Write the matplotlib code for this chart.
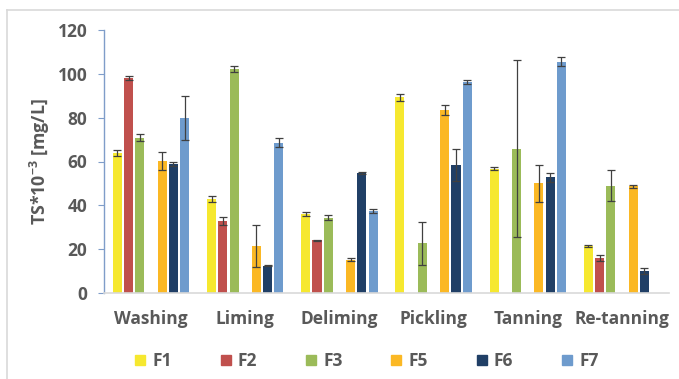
import numpy as np
import matplotlib.pyplot as plt
from matplotlib.lines import Line2D

plt.rcParams['font.family'] = ['Open Sans', 'DejaVu Sans']
plt.rcParams['font.weight'] = 'bold'
plt.rcParams['mathtext.fontset'] = 'custom'
plt.rcParams['mathtext.bf'] = 'Open Sans:bold'
plt.rcParams['mathtext.rm'] = 'Open Sans:bold'

stages = ['Washing', 'Liming', 'Deliming', 'Pickling', 'Tanning', 'Re-tanning']
series = ['F1', 'F2', 'F3', 'F4', 'F5', 'F6', 'F7']

# mean values (TS*10^-3 mg/L); F4 has no measurements
f1 = [64.0, 42.8, 35.9, 89.4, 56.7, 21.5]
f2 = [98.0, 32.9, 24.0, np.nan, np.nan, 15.8]
f3 = [70.9, 102.3, 34.4, 22.7, 65.9, 48.9]
f4 = [np.nan] * 6
f5 = [60.2, 21.5, 15.2, 83.6, 50.1, 48.6]
f6 = [58.9, 12.5, 54.6, 58.4, 52.7, 10.2]
f7 = [79.7, 68.6, 37.4, 96.3, 105.5, np.nan]

# standard deviations
e1 = [1.4, 1.5, 0.9, 1.6, 0.6, 0.6]
e2 = [0.8, 2.0, 0.4, 0, 0, 1.4]
e3 = [1.5, 1.5, 1.0, 9.9, 40.3, 7.0]
e4 = [0] * 6
e5 = [4.3, 9.5, 0.7, 2.2, 8.5, 0.9]
e6 = [0.8, 0.4, 0.4, 7.2, 2.0, 1.4]
e7 = [10.0, 2.0, 0.8, 0.8, 2.0, 0]

values = [f1, f2, f3, f4, f5, f6, f7]
errors = [e1, e2, e3, e4, e5, e6, e7]
colors = ['#F6E82F', '#C0504D', '#9BBB59', '#FFFFFF', '#FBB824', '#203F66', '#6E9BCD']

fig = plt.figure(figsize=(6.79, 3.79), dpi=100)
ax = fig.add_axes([104 / 679, 1 - 293 / 379, 565 / 679, 263 / 379])

x = np.arange(len(stages))
step = 0.119
width = 0.096
for i, (name, vals, errs, c) in enumerate(zip(series, values, errors, colors)):
    if name == 'F4':
        continue
    pos = x + (i - 3) * step
    ax.bar(pos, vals, width=width, color=c, zorder=2)
    ax.errorbar(pos, vals, yerr=errs, fmt='none', ecolor='#404040',
                elinewidth=0.9, capsize=3.2, capthick=0.9, zorder=3)

ax.set_xlim(-0.5, 5.5)
ax.set_ylim(0, 120)
ax.set_yticks(np.arange(0, 121, 20))
ax.set_xticks(x)
ax.set_xticklabels(stages)

txt = '#595959'
ax.tick_params(axis='y', direction='out', length=4, color='#7F9DC9',
               labelsize=12.5, labelcolor=txt, pad=8)
ax.tick_params(axis='x', length=0, labelsize=12.5, labelcolor=txt, pad=12)
for lab in ax.get_xticklabels() + ax.get_yticklabels():
    lab.set_fontweight('bold')

for s in ['top', 'right']:
    ax.spines[s].set_visible(False)
ax.spines['left'].set_color('#7F9DC9')
ax.spines['left'].set_linewidth(1.0)
ax.spines['bottom'].set_color('#D9D9D9')
ax.spines['bottom'].set_linewidth(1.2)

ax.set_ylabel('TS*10$^{-3}$ [mg/L]', fontsize=12.8, color=txt,
              fontweight='bold', labelpad=4)

# legend without the empty F4 series
handles = [Line2D([], [], marker='s', linestyle='none', markersize=7.5,
                  markerfacecolor=c, markeredgecolor=c)
           for n, c in zip(series, colors) if n != 'F4']
labels = [n for n in series if n != 'F4']
leg = fig.legend(handles, labels, loc='center', ncol=6,
                 bbox_to_anchor=(366 / 679, 1 - 361 / 379), frameon=False,
                 handlelength=0.8, handletextpad=0.3, columnspacing=2.7,
                 prop={'size': 12.5, 'weight': 'bold'})
for t in leg.get_texts():
    t.set_color(txt)

# outer chart frame
fig.add_artist(Line2D([7 / 679, 7 / 679], [0, 1 - 10 / 379], transform=fig.transFigure,
                      color='#D9D9D9', lw=1.2))
fig.add_artist(Line2D([7 / 679, 1], [1 - 10 / 379, 1 - 10 / 379], transform=fig.transFigure,
                      color='#D9D9D9', lw=1.2))

fig.savefig('out.png', dpi=100)
